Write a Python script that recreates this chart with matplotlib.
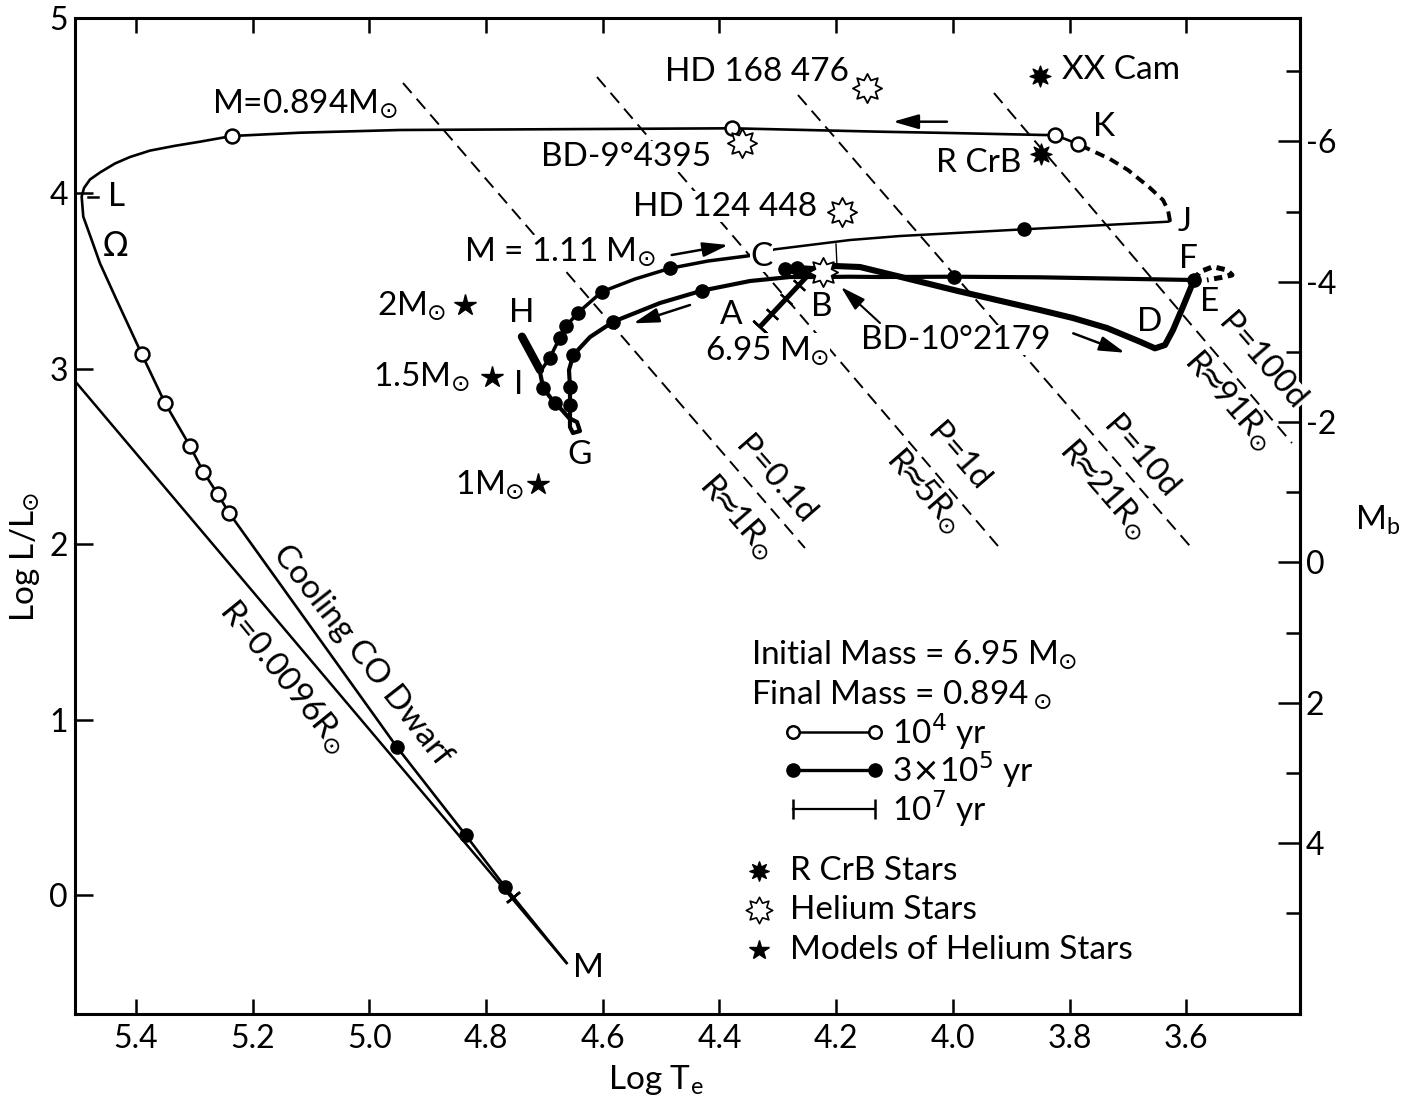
import numpy as np
import matplotlib
matplotlib.use("Agg")
import matplotlib.pyplot as plt
from matplotlib.path import Path
from matplotlib.ticker import FixedLocator

plt.rcParams['font.family'] = ['Lato', 'DejaVu Sans']
plt.rcParams['mathtext.fontset'] = 'dejavusans'
plt.rcParams['axes.unicode_minus'] = False
plt.rcParams['lines.scale_dashes'] = False

FS = 24  # in-plot label size

# ---------------- data (log Te, log L/Lsun) ----------------
# main sequence A -> B with 1e7 yr ticks
ab_t = [4.3306, 4.2478]
ab_l = [3.2400, 3.5348]
ab_tick_t = [4.3100, 4.2860, 4.2637]
ab_tick_l = [3.3130, 3.3985, 3.4778]
ab_cap_t = [4.3306]
ab_cap_l = [3.2400]

# hook at B and crossing to the red giant branch D -> E
bd_t = [4.2478, 4.2877, 4.2672, 4.2398, 4.2021, 4.1592, 4.1027, 3.9913, 3.8507,
        3.7942, 3.7359, 3.6793, 3.6536, 3.6365, 3.6228, 3.6057, 3.5868]
bd_l = [3.5348, 3.5690, 3.5747, 3.5690, 3.5861, 3.5804, 3.5348, 3.4436, 3.3352,
        3.2896, 3.2326, 3.1545, 3.1169, 3.1357, 3.2212, 3.3540, 3.5063]

# small loop at F
floop_t = [3.5868, 3.5765, 3.5542, 3.5303, 3.5217, 3.5388, 3.5645]
floop_l = [3.5063, 3.5536, 3.5821, 3.5633, 3.5348, 3.5217, 3.5063]

# F -> blue loop -> G -> I
blue_t = [3.5868, 3.8507, 3.9981, 4.1249, 4.1764, 4.2226, 4.2792, 4.3477, 4.4305,
          4.5020, 4.5820, 4.6219, 4.6506, 4.6579, 4.6562, 4.6562, 4.6562, 4.6511,
          4.6391, 4.6442, 4.6579, 4.6699, 4.6819, 4.7020, 4.7076]
blue_l = [3.5063, 3.5217, 3.5251, 3.5234, 3.5251, 3.5234, 3.5234, 3.5006, 3.4453,
          3.3751, 3.2686, 3.1813, 3.0787, 2.9932, 2.8980, 2.7936, 2.6682, 2.6340,
          2.6454, 2.6967, 2.7195, 2.7651, 2.8033, 2.8888, 2.9818]

# short excursion to H
h_t = [4.7076, 4.7385]
h_l = [2.9932, 3.1830]

# I -> C (M = 1.11 Msun)
up_t = [4.7076, 4.6905, 4.6734, 4.6631, 4.6420, 4.6014, 4.5448, 4.4848, 4.4197, 4.3529, 4.3340]
up_l = [2.9818, 3.0644, 3.1785, 3.2440, 3.3210, 3.4396, 3.5120, 3.5730, 3.6146, 3.6431, 3.6545]

# C -> J
cj_t = [4.3340, 4.3049, 4.1764, 4.0907, 3.8787, 3.6314, 3.6279]
cj_l = [3.6545, 3.6813, 3.7343, 3.7571, 3.7953, 3.8387, 3.8427]

# J -> K (dashed)
jk_t = [3.6279, 3.6314, 3.6399, 3.6639, 3.7000, 3.7308, 3.7702, 3.7856]
jk_l = [3.8427, 3.9054, 3.9624, 4.0365, 4.1334, 4.1962, 4.2571, 4.2816]

# K -> L -> M (M = 0.894 Msun, cooling CO dwarf)
fin_t = [3.7856, 3.8250, 3.8439, 4.0050, 4.1249, 4.3786, 4.9476, 5.1189, 5.2355,
         5.2903, 5.3332, 5.3760, 5.4103, 5.4360, 5.4617, 5.4788, 5.4891, 5.4931,
         5.4903, 5.4759, 5.4617, 5.4331, 5.3902, 5.3503, 5.3075, 5.2847, 5.2600,
         5.2406, 4.9532, 4.8350, 4.7676, 4.6619]
fin_l = [4.2816, 4.3330, 4.3330, 4.3444, 4.3518, 4.3712, 4.3615, 4.3461, 4.3273,
         4.2948, 4.2714, 4.2440, 4.2075, 4.1705, 4.1192, 4.0793, 4.0308, 3.9812,
         3.8672, 3.7343, 3.6015, 3.3922, 3.0844, 2.8050, 2.5599, 2.4134, 2.2862,
         2.1796, 0.8455, 0.3421, 0.0473, -0.3877]
cool_tick_t = [4.7539]
cool_tick_l = [-0.0114]

# time markers: 1e4 yr (open) and 3e5 yr (filled)
open_t = [3.7856, 3.8250, 4.3786, 5.2355, 5.3902, 5.3503, 5.3075, 5.2847, 5.2600, 5.2406]
open_l = [4.2816, 4.3330, 4.3712, 4.3273, 3.0844, 2.8050, 2.5599, 2.4134, 2.2862, 2.1796]
dot_t = [4.9532, 4.8350, 4.7676, 3.8787, 3.9981, 3.5868, 4.4305, 4.5820, 4.6506,
         4.6562, 4.6562, 4.6819, 4.7020, 4.6905, 4.6734, 4.6631, 4.6420, 4.6014,
         4.4848, 4.2877, 4.2672]
dot_l = [0.8455, 0.3421, 0.0473, 3.7953, 3.5251, 3.5063, 3.4453, 3.2686, 3.0787,
         2.8980, 2.7936, 2.8033, 2.8888, 3.0644, 3.1785, 3.2440, 3.3210, 3.4396,
         3.5730, 3.5690, 3.5747]

# constant radius line R = 0.0096 Rsun
r_t = [5.5045, 4.6619]
r_l = [2.930, -0.3877]

# pulsation period / radius lines
p_names = ['P=0.1d', 'P=1d', 'P=10d', 'P=100d']
r_names = [r'R$\!\!\approx\!\!$1R$\!_\odot$', r'R$\!\!\approx\!\!$5R$\!_\odot$',
           r'R$\!\!\approx\!\!$21R$\!_\odot$', r'R$\!\!\approx\!\!$91R$\!_\odot$']
p_start_t = [4.9424, 4.6099, 4.2655, 3.9296]
p_start_l = [4.6294, 4.6636, 4.5610, 4.5724]
p_end_t = [4.2535, 3.9227, 3.5937, 3.4189]
p_end_l = [1.9784, 1.9897, 1.9897, 2.5770]
p_lab_t = [4.3049, 3.9913, 3.6793, 3.4703]
p_lab_l = [2.3660, 2.4971, 2.4914, 3.0388]
r_lab_t = [4.3683, 4.0478, 3.7410, 3.5268]
r_lab_l = [2.1551, 2.3033, 2.3147, 2.8221]

# observed stars
rcrb_names = ['XX Cam', 'R CrB']
rcrb_t = [3.8514, 3.8497]
rcrb_l = [4.6693, 4.2246]
he_names = ['HD 168 476', 'BD-9°4395', 'HD 124 448', 'BD-10°2179']
he_t = [4.1477, 4.3620, 4.1906, 4.2221]
he_l = [4.5992, 4.2856, 3.8957, 3.5536]
model_names = [r'2M$\!_\odot$', r'1.5M$\!_\odot$', r'1M$\!_\odot$']
model_t = [4.8362, 4.7904, 4.7105]
model_l = [3.3637, 2.9549, 2.3432]

MB_ZERO = 4.74  # M_bol = MB_ZERO - 2.5 log L

x_ticks = [5.4, 5.2, 5.0, 4.8, 4.6, 4.4, 4.2, 4.0, 3.8, 3.6]
y_ticks = [0, 1, 2, 3, 4, 5]
mb_major = [-6, -4, -2, 0, 2, 4]
mb_minor = [-7, -5, -3, -1, 1, 3, 5]


def star_path(n, inner):
    ang = np.pi / 2 + np.arange(2 * n) * np.pi / n
    rad = np.where(np.arange(2 * n) % 2 == 0, 1.0, inner)
    verts = np.column_stack([rad * np.cos(ang), rad * np.sin(ang)])
    verts = np.vstack([verts, verts[:1]])
    codes = [Path.MOVETO] + [Path.LINETO] * (2 * n - 1) + [Path.CLOSEPOLY]
    return Path(verts, codes)


RCRB_MARK = star_path(8, 0.5)
HE_MARK = star_path(8, 0.6)

fig = plt.figure(figsize=(14.12, 10.96), dpi=100)
ax = fig.add_axes([0.05312, 0.07482, 0.86756, 0.90876])
ax.set_xlim(5.5045, 3.4051)
ax.set_ylim(-0.678, 5.0)

for sp in ax.spines.values():
    sp.set_linewidth(2.2)

ax.set_xticks(x_ticks)
ax.set_xticklabels([f'{v:.1f}' for v in x_ticks])
ax.set_yticks(y_ticks)
ax.set_yticklabels([str(v) for v in y_ticks])
ax.tick_params(axis='x', direction='in', length=11, width=1.8, top=True,
               labelsize=23, pad=7)
ax.tick_params(axis='y', direction='in', length=13, width=1.8, right=False,
               labelsize=23, pad=5)

sec = ax.secondary_yaxis('right', functions=(lambda l: MB_ZERO - 2.5 * l,
                                             lambda m: (MB_ZERO - m) / 2.5))
sec.set_yticks(mb_major)
sec.set_yticklabels([str(v) for v in mb_major])
sec.yaxis.set_minor_locator(FixedLocator(mb_minor))
sec.tick_params(which='major', direction='in', length=16, width=1.8, labelsize=23, pad=4)
sec.tick_params(which='minor', direction='in', length=10, width=1.8)
sec.spines['right'].set_linewidth(2.2)

k = 'black'
WB = dict(facecolor='white', edgecolor='none', pad=0.3)

# dashed period lines
for i in range(4):
    ax.plot([p_start_t[i], p_end_t[i]], [p_start_l[i], p_end_l[i]], color=k,
            lw=1.4, dashes=(9.5, 5.5), zorder=2)
    ax.text(p_lab_t[i], p_lab_l[i], p_names[i], fontsize=FS, rotation=-49,
            ha='center', va='center', rotation_mode='anchor', zorder=7,
            clip_on=False, bbox=WB)
    ax.text(r_lab_t[i], r_lab_l[i], r_names[i], fontsize=FS, rotation=-49,
            ha='center', va='center', rotation_mode='anchor', zorder=7,
            clip_on=False, bbox=WB)

# radius line and final track
ax.plot(r_t, r_l, color=k, lw=1.8, zorder=3, solid_capstyle='butt')
ax.plot(fin_t, fin_l, color=k, lw=1.9, zorder=3, solid_joinstyle='round')
ax.plot(cool_tick_t, cool_tick_l, ls='none', marker=(2, 2, -51), ms=12,
        mew=1.8, color=k, zorder=4)

# evolutionary track pieces
ax.plot(ab_t, ab_l, color=k, lw=3.6, zorder=4, solid_capstyle='butt')
ax.plot(ab_tick_t, ab_tick_l, ls='none', marker=(2, 2, 46.9), ms=11, mew=1.6,
        color=k, zorder=4)
ax.plot(ab_cap_t, ab_cap_l, ls='none', marker=(2, 2, 46.9), ms=14, mew=1.8,
        color=k, zorder=4)
ax.plot(bd_t, bd_l, color=k, lw=4.4, zorder=4, solid_joinstyle='round',
        solid_capstyle='round')
ax.plot(floop_t, floop_l, color=k, lw=3.6, dashes=(6, 4), zorder=4)
ax.plot(blue_t, blue_l, color=k, lw=3.0, zorder=4, solid_joinstyle='round')
ax.plot(h_t, h_l, color=k, lw=6, zorder=4, solid_capstyle='round')
ax.plot(up_t, up_l, color=k, lw=2.5, zorder=4, solid_joinstyle='round')
ax.plot(cj_t, cj_l, color=k, lw=1.8, zorder=4)
ax.plot(jk_t, jk_l, color=k, lw=2.8, dashes=(7, 4.5), zorder=4)

ax.plot(open_t, open_l, ls='none', marker='o', ms=10, mfc='white', mec=k,
        mew=1.8, zorder=5)
ax.plot(dot_t, dot_l, ls='none', marker='o', ms=9.5, color=k, zorder=5)

# stars
ax.plot(rcrb_t, rcrb_l, ls='none', marker=RCRB_MARK, ms=15, color=k, zorder=6)
ax.plot(he_t, he_l, ls='none', marker=HE_MARK, ms=21, mfc='white', mec=k,
        mew=1.3, zorder=6)
ax.plot(model_t, model_l, ls='none', marker='*', ms=16, color=k, zorder=6)

# leader from BD-10 2179 to the C-J track
lead_t = [4.2003, 4.1986]
lead_l = [3.7115, 3.5861]
ax.plot(lead_t, lead_l, color=k, lw=1.0, zorder=3)

# leader next to point L
l_dash_t = [5.4823, 5.4651]
l_dash_l = [3.9812, 3.9812]
ax.plot(l_dash_t, l_dash_l, color=k, lw=1.8, zorder=3)


def arrow(t0, l0, t1, l1, lw=1.8):
    ax.annotate('', xy=(t1, l1), xytext=(t0, l0),
                arrowprops=dict(arrowstyle='-|>,head_length=0.7,head_width=0.2',
                                lw=lw, color=k, shrinkA=0, shrinkB=0,
                                mutation_scale=22), zorder=6)


arrow(4.0101, 4.4088, 4.1027, 4.4088)
arrow(4.4819, 3.6488, 4.3849, 3.7058)
arrow(4.4506, 3.3637, 4.5477, 3.2594)
arrow(4.1249, 3.2611, 4.1918, 3.4664, lw=1.5)
arrow(3.7937, 3.2024, 3.7051, 3.0918)


def label(t, l, s, ha='center', box=True, **kw):
    ax.text(t, l, s, fontsize=FS, ha=ha, va='center', zorder=7,
            bbox=WB if box else None, **kw)


label(5.1104, 4.5154, r'M=0.894M$\!_\odot$')
label(5.4331, 3.9812, 'L', box=False)
label(5.4360, 3.6961, r'$\Omega$', box=False)
label(4.5602, 4.2092, he_names[1])
label(4.3357, 4.6939, he_names[0])
label(3.8130, 4.7035, rcrb_names[0], ha='left')
label(3.9553, 4.1733, rcrb_names[1])
label(3.7417, 4.3803, 'K', box=False)
label(3.6031, 3.8387, 'J', box=False)
label(4.3906, 3.9242, he_names[2])
label(4.6734, 3.6676, r'M = 1.11 M$\!_\odot$')
label(4.3277, 3.6391, 'C')
label(3.5971, 3.6260, 'F', box=False)
label(3.5599, 3.3826, 'E', box=False)
label(3.6622, 3.2686, 'D', box=False)
label(3.9947, 3.1642, he_names[3])
label(4.3791, 3.3067, 'A', box=False)
label(4.2249, 3.3540, 'B', box=False)
label(4.3186, 3.1072, r'6.95 M$\!_\odot$')
label(4.7390, 3.3164, 'H', box=False)
label(4.7448, 2.9076, 'I', box=False)
label(4.6391, 2.5086, 'G', box=False)
label(4.9270, 3.3637, model_names[0], box=False)
label(4.9104, 2.9549, model_names[1], box=False)
label(4.7933, 2.3432, model_names[2], box=False)
label(4.6249, -0.4179, 'M', box=False)
ax.text(5.0127, 1.3683, 'Cooling CO Dwarf', fontsize=FS, rotation=-52,
        ha='center', va='center', rotation_mode='anchor', zorder=7)
ax.text(5.1464, 1.2486, r'R=0.0096R$\!_\odot$', fontsize=FS, rotation=-51,
        ha='center', va='center', rotation_mode='anchor', zorder=7)

# key
ta = ax.transAxes
ax.text(0.552, 0.361, r'Initial Mass = 6.95 M$\!_\odot$', transform=ta,
        fontsize=FS, va='center')
ax.text(0.552, 0.3207, r'Final Mass = 0.894$_\odot$', transform=ta,
        fontsize=FS, va='center')
key_x = [0.5861, 0.6533]
ax.plot(key_x, [0.2836, 0.2836], transform=ta, color=k, lw=1.8,
        marker='o', ms=9, mfc='white', mec=k, mew=1.8)
ax.text(0.6669, 0.2836, r'10$^4$ yr', transform=ta, fontsize=FS, va='center')
ax.plot(key_x, [0.2454, 0.2454], transform=ta, color=k, lw=2.4,
        marker='o', ms=9.5)
ax.text(0.6669, 0.2454, r'3$\times$10$^5$ yr', transform=ta, fontsize=FS, va='center')
ax.plot(key_x, [0.2062, 0.2062], transform=ta, color=k, lw=1.6,
        marker='|', ms=14, mew=1.8)
ax.text(0.6669, 0.2062, r'10$^7$ yr', transform=ta, fontsize=FS, va='center')
ax.plot([0.5584], [0.1436], transform=ta, marker=RCRB_MARK, ms=14, color=k)
ax.text(0.5837, 0.1436, 'R CrB Stars', transform=ta, fontsize=FS, va='center')
ax.plot([0.5584], [0.1044], transform=ta, marker=HE_MARK, ms=19, mfc='white',
        mec=k, mew=1.2)
ax.text(0.5837, 0.1044, 'Helium Stars', transform=ta, fontsize=FS, va='center')
ax.plot([0.5584], [0.0643], transform=ta, marker='*', ms=15, color=k)
ax.text(0.5837, 0.0643, 'Models of Helium Stars', transform=ta, fontsize=FS,
        va='center')

fig.text(0.0177, 0.4918, r'Log L/L$\!_\odot$', rotation=90, fontsize=FS,
         ha='center', va='center')
fig.text(0.4646, 0.0146, r'Log T$_\mathregular{e}$', fontsize=FS,
         ha='center', va='center')
fig.text(0.976, 0.5255, r'M$_\mathregular{b}$', fontsize=FS,
         ha='center', va='center')

fig.savefig('out.png', dpi=100)
